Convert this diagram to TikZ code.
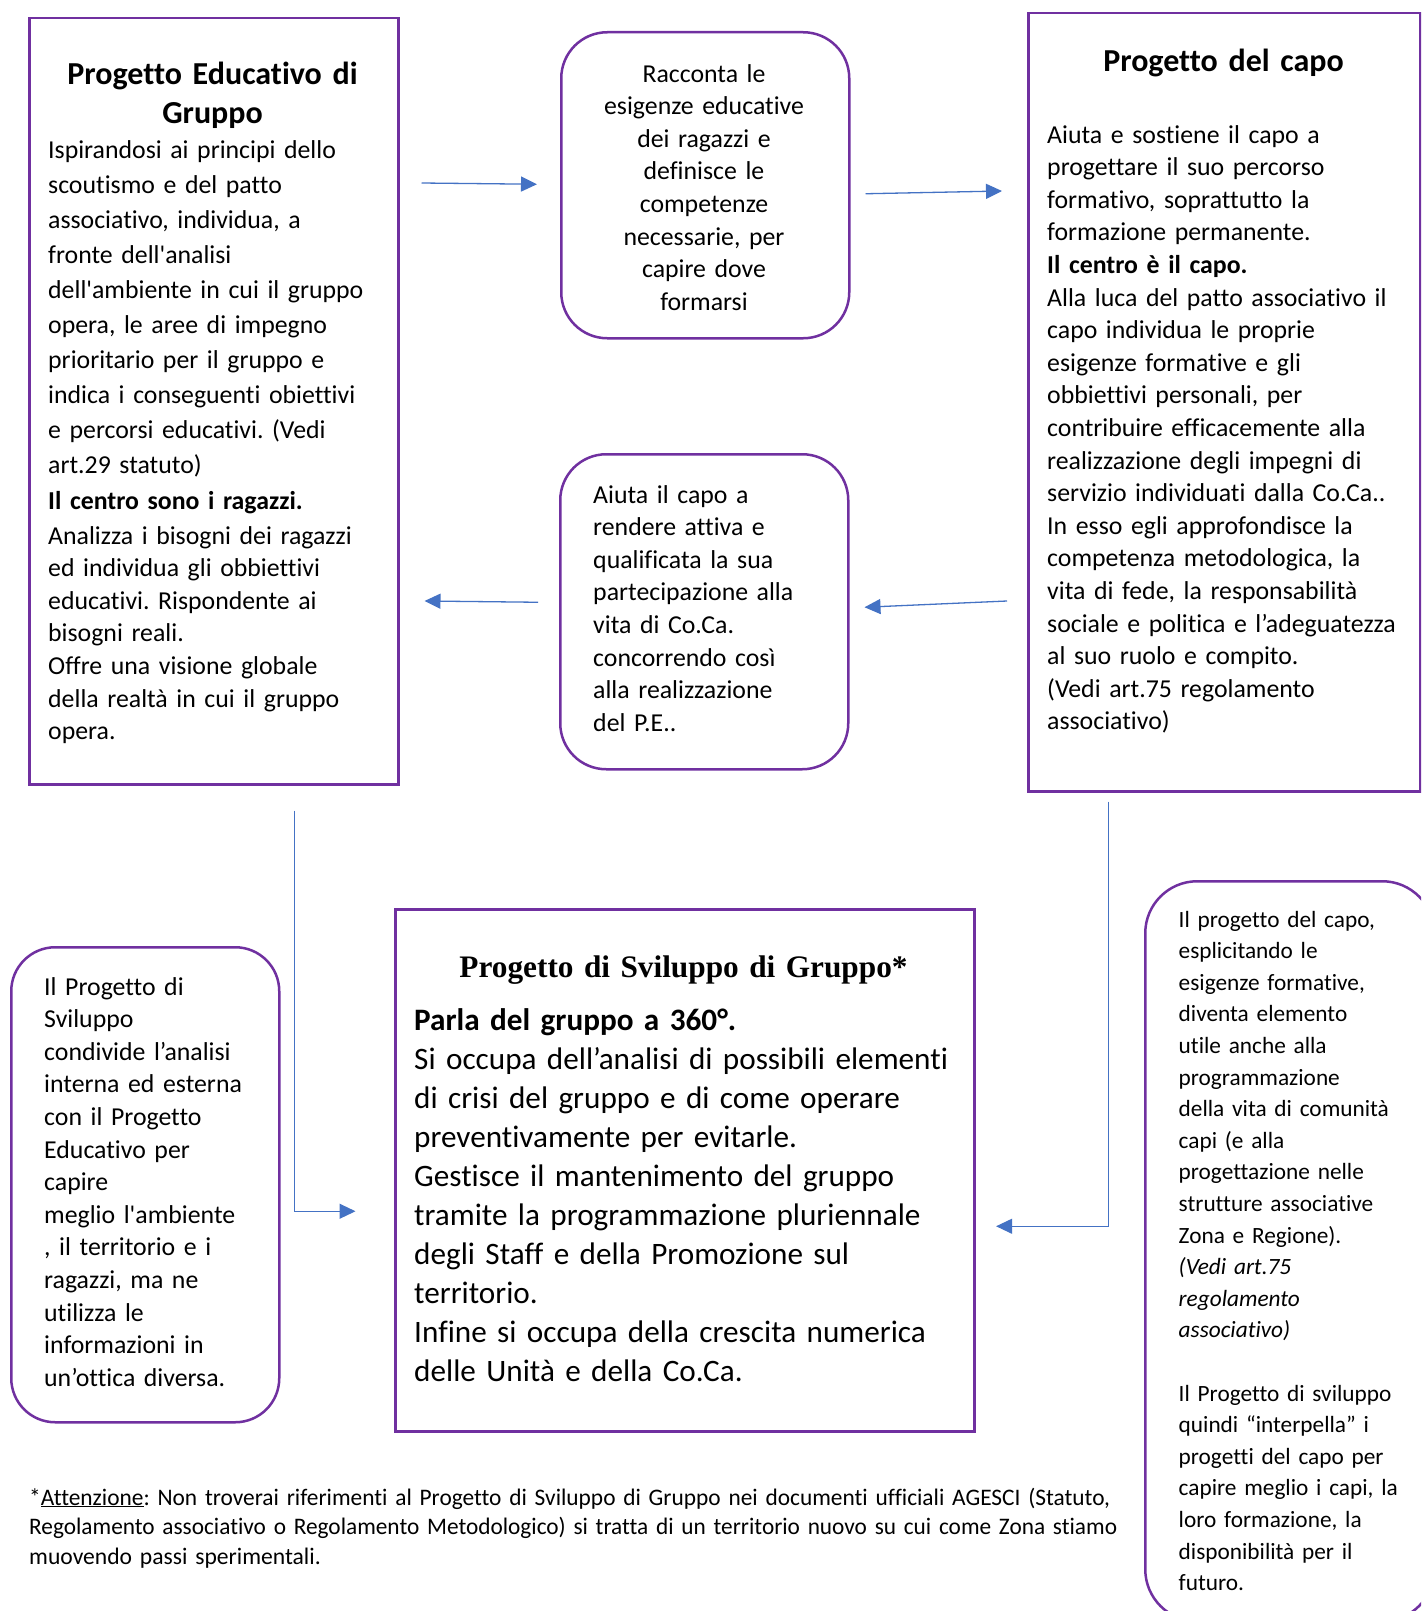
\documentclass[tikz,border=0pt]{standalone}
\usepackage{fontspec}
\setmainfont{Carlito}[Ligatures={TeXOff,NoCommon}]
\newfontfamily\psgfont{Liberation Serif}[Ligatures={TeXOff}]
\usepackage{graphicx}
\usetikzlibrary{arrows.meta,calc}
\definecolor{purp}{HTML}{7030A0}
\definecolor{arrblue}{HTML}{4472C4}
\frenchspacing
\begin{document}
\begin{tikzpicture}[x=1pt,y=-1pt,
  sq/.style={draw=purp, line width=2.5pt, rectangle, inner sep=0pt, anchor=north west},
  rnd/.style={sq, rounded corners=46pt},
  arr/.style={draw=arrblue, line width=1.3pt, -{Triangle[length=16pt,width=15pt]}},
  thinarr/.style={draw=arrblue, line width=1.1pt, -{Triangle[length=16pt,width=15pt]}},
  bodytxt/.style={inner sep=0pt, anchor=base west, align=left, text width=420pt, font=\fontsize{25.8}{32.6}\selectfont},
  ctrtxt/.style={inner sep=0pt, anchor=base, align=center, text width=380pt},
]
\useasboundingbox (0,0) rectangle (1421,1611);
\clip (0,0) rectangle (1421,1611);
\fill[white] (0,0) rectangle (1421,1611);

% boxes
\node[sq, minimum width=369pt, minimum height=766pt] (peg) at (28,17) {};
\node[rnd, minimum width=288pt, minimum height=306pt] (rac) at (560,31) {};
\node[sq, minimum width=392pt, minimum height=778pt] (cap) at (1027,12) {};
\node[rnd, minimum width=288pt, minimum height=315pt] (aiu) at (559,453) {};
\node[rnd, rounded corners=44pt, minimum width=268pt, minimum height=475pt] (lft) at (10,946) {};
\node[sq, minimum width=579pt, minimum height=522pt] (psg) at (394,908) {};
\node[rnd, rounded corners=52pt, minimum width=289pt, minimum height=740pt] (rgt) at (1144,880) {};

% texts
\node[ctrtxt, font=\bfseries\fontsize{32}{39}\selectfont] (pegT) at (212.5,84.5) {Progetto Educativo di\\Gruppo};
\node[bodytxt, font=\fontsize{25.8}{35.1}\selectfont] (pegA) at (48,158) {Ispirandosi ai principi dello\\
scoutismo e del patto\\
associativo, individua, a\\
fronte dell'analisi\\
dell'ambiente in cui il gruppo\\
opera, le aree di impegno\\
prioritario per il gruppo e\\
indica i conseguenti obiettivi\\
e percorsi educativi. (Vedi\\
art.29 statuto)\\
\textbf{Il centro sono i ragazzi.}};
\node[bodytxt] (pegB) at (48,544) {Analizza i bisogni dei ragazzi\\
ed individua gli obbiettivi\\
educativi. Rispondente ai\\
bisogni reali.\\
Offre una visione globale\\
della realtà in cui il gruppo\\
opera.};

\node[ctrtxt, text width=280pt, font=\fontsize{25.8}{32.6}\selectfont] (racT) at (704,82) {Racconta le\\esigenze educative\\dei ragazzi e\\definisce le\\competenze\\necessarie, per\\capire dove\\formarsi};

\node[ctrtxt, font=\bfseries\fontsize{32}{39}\selectfont] (capT) at (1223.5,71) {Progetto del capo};
\node[bodytxt] (capB) at (1047,143) {Aiuta e sostiene il capo a\\
progettare il suo percorso\\
formativo, soprattutto la\\
formazione permanente.\\
\textbf{Il centro è il capo.}\\
Alla luca del patto associativo il\\
capo individua le proprie\\
esigenze formative e gli\\
obbiettivi personali, per\\
contribuire efficacemente alla\\
realizzazione degli impegni di\\
servizio individuati dalla Co.Ca..\\
In esso egli approfondisce la\\
competenza metodologica, la\\
vita di fede, la responsabilità\\
sociale e politica e l’adeguatezza\\
al suo ruolo e compito.\\
(Vedi art.75 regolamento\\
associativo)};

\node[bodytxt] (aiuB) at (593,503) {Aiuta il capo a\\
rendere attiva e\\
qualificata la sua\\
partecipazione alla\\
vita di Co.Ca.\\
concorrendo così\\
alla realizzazione\\
del P.E..};

\node[bodytxt] (lftB) at (44,995) {Il Progetto di\\
Sviluppo\\
condivide l’analisi\\
interna ed esterna\\
con il Progetto\\
Educativo per\\
capire\\
meglio l'ambiente\\
, il territorio e i\\
ragazzi, ma ne\\
utilizza le\\
informazioni in\\
un’ottica diversa.};

\node[ctrtxt, text width=560pt, font=\psgfont\bfseries\fontsize{31.3}{38}\selectfont] (psgT) at (683.5,977) {Progetto di Sviluppo di Gruppo*};
\node[bodytxt, text width=560pt, font=\fontsize{31.2}{39}\selectfont] (psgB) at (414,1030) {\textbf{Parla del gruppo a 360°.}\\
Si occupa dell’analisi di possibili elementi\\
di crisi del gruppo e di come operare\\
preventivamente per evitarle.\\
Gestisce il mantenimento del gruppo\\
tramite la programmazione pluriennale\\
degli Staff e della Promozione sul\\
territorio.\\
Infine si occupa della crescita numerica\\
delle Unità e della Co.Ca.};

\node[bodytxt, text width=260pt, font=\fontsize{23.3}{31.6}\selectfont] (rgtB) at (1178.5,927) {Il progetto del capo,\\
esplicitando le\\
esigenze formative,\\
diventa elemento\\
utile anche alla\\
programmazione\\
della vita di comunità\\
capi (e alla\\
progettazione nelle\\
strutture associative\\
Zona e Regione).\\
\textit{(Vedi art.75}\\
\textit{regolamento}\\
\textit{associativo)}\\[31.6pt]
Il Progetto di sviluppo\\
quindi “interpella” i\\
progetti del capo per\\
capire meglio i capi, la\\
loro formazione, la\\
disponibilità per il\\
futuro.};

\node[bodytxt, text width=1200pt, font=\fontsize{23.7}{29.5}\selectfont] (note) at (29,1505) {\resizebox{1081pt}{\height}{*\underline{Attenzione}: Non troverai riferimenti al Progetto di Sviluppo di Gruppo nei documenti ufficiali AGESCI (Statuto,}\\
\resizebox{1088pt}{\height}{Regolamento associativo o Regolamento Metodologico) si tratta di un territorio nuovo su cui come Zona stiamo}\\
\resizebox{291.6pt}{\height}{muovendo passi sperimentali.}};

% connectors
\draw[arr] ($(peg.north east)+(22,166)$) -- ($(rac.west)+(-23,-1)$);
\draw[arr] ($(rac.east)+(15,8.5)$) -- ($(cap.north west)+(-25,179)$);
\draw[arr] ($(aiu.west)+(-21,-9.5)$) -- ($(peg.north east)+(25,584)$);
\draw[arr] ($(cap.north west)+(-20,589)$) -- ($(aiu.east)+(15,-4.5)$);
\draw[thinarr] ($(peg.south)+(80.3,25)$) |- ($(psg.west)+(-38.5,41)$);
\draw[thinarr] ($(cap.south)+(-115.8,9)$) |- ($(psg.east)+(20.6,56)$);
\end{tikzpicture}
\end{document}
